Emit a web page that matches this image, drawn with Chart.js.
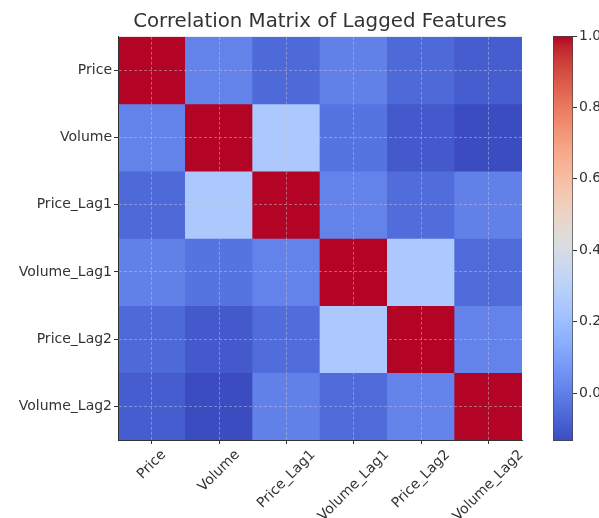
<!DOCTYPE html>
<html>
<head>
<meta charset="utf-8">
<script src="https://cdn.jsdelivr.net/npm/chart.js@4/dist/chart.umd.min.js"></script>
<style>
  html, body { margin: 0; padding: 0; background: #fff; overflow: hidden; }
  #wrap { position: relative; width: 599px; height: 518px; }
  #main { position: absolute; left: 0; top: 0; }
  #cbar { position: absolute; left: 540px; top: 0; }
</style>
</head>
<body>
<div id="wrap">
  <canvas id="main" width="599" height="518"></canvas>
  <canvas id="cbar" width="80" height="518"></canvas>
</div>
<script>
// ---- data ----
const features = ['Price', 'Volume', 'Price_Lag1', 'Volume_Lag1', 'Price_Lag2', 'Volume_Lag2'];
const rowPrice      = [ 1.00,  0.01, -0.06,  0.005, -0.06, -0.09 ];
const rowVolume     = [ 0.01,  1.00,  0.25, -0.03, -0.10, -0.134 ];
const rowPriceLag1  = [-0.06,  0.25,  1.00,  0.01, -0.05,  0.005 ];
const rowVolumeLag1 = [ 0.005,-0.03,  0.01,  1.00,  0.25, -0.055 ];
const rowPriceLag2  = [-0.06, -0.10, -0.05,  0.25,  1.00,  0.01 ];
const rowVolumeLag2 = [-0.09, -0.134, 0.005,-0.055, 0.01,  1.00 ];
const matrix = [rowPrice, rowVolume, rowPriceLag1, rowVolumeLag1, rowPriceLag2, rowVolumeLag2];
const colorbarTicks = [0.0, 0.2, 0.4, 0.6, 0.8, 1.0];
const chartTitle = 'Correlation Matrix of Lagged Features';

// ---- colormap (coolwarm) ----
const cw = [
 [59,76,192],[68,90,204],[77,104,215],[87,117,225],[98,130,234],[108,142,241],[119,154,247],[130,165,251],
 [141,176,254],[152,185,255],[163,194,255],[174,201,253],[184,208,249],[194,213,244],[204,217,238],[213,219,230],
 [221,221,221],[229,216,209],[236,211,197],[241,204,185],[245,196,173],[247,187,160],[247,177,148],[247,166,135],
 [244,154,123],[241,141,111],[236,127,99],[229,112,88],[222,96,77],[213,80,66],[203,62,56],[192,40,47],[180,4,38]
];
function coolwarm(t) {
  t = Math.max(0, Math.min(1, t));
  const p = t * (cw.length - 1);
  const i = Math.min(cw.length - 2, Math.floor(p));
  const f = p - i;
  const c = cw[i].map((v, k) => Math.round(v + (cw[i + 1][k] - v) * f));
  return `rgb(${c[0]},${c[1]},${c[2]})`;
}
const vmin = Math.min(...matrix.flat());
const vmax = Math.max(...matrix.flat());
const norm = v => (v - vmin) / (vmax - vmin);

const FONT = 'DejaVu Sans';
const TEXT = '#333333';
const GRID = 'rgba(200,200,215,0.6)';

// rotated, centred x tick labels (matplotlib style)
const xLabelPlugin = {
  id: 'xLabels',
  afterDraw(chart) {
    const xs = chart.scales.x;
    const ctx = chart.ctx;
    const ca = chart.chartArea;
    ctx.save();
    ctx.font = `14px "${FONT}"`;
    ctx.fillStyle = TEXT;
    ctx.textAlign = 'center';
    ctx.textBaseline = 'middle';
    features.forEach((lab, i) => {
      const x = xs.getPixelForValue(i);
      const w = ctx.measureText(lab).width;
      const side = (w + 16) * Math.SQRT1_2;
      const cy = ca.bottom + 7 + side / 2;
      ctx.save();
      ctx.translate(x, cy);
      ctx.rotate(-Math.PI / 4);
      ctx.fillText(lab, 0, 0);
      ctx.restore();
    });
    ctx.restore();
  }
};

const gridOpts = {
  z: 1,
  color: GRID,
  lineWidth: 0.8,
  drawTicks: true,
  tickLength: 4,
  tickColor: '#333',
  tickWidth: 1,
  tickBorderDash: []
};
const borderOpts = { display: true, color: '#333', width: 1, dash: [3, 2], z: 1 };

new Chart(document.getElementById('main'), {
  type: 'bar',
  data: {
    labels: features,
    datasets: matrix.map((row, r) => ({
      label: features[r],
      data: row.map(() => 1),
      backgroundColor: row.map(v => coolwarm(norm(v))),
      borderWidth: 0,
      barPercentage: 1,
      categoryPercentage: 1,
      stack: 'm'
    }))
  },
  options: {
    responsive: false,
    animation: false,
    devicePixelRatio: 1,
    layout: { padding: { left: 0, right: 77, top: 0, bottom: 0 } },
    plugins: {
      legend: { display: false },
      tooltip: { enabled: false },
      title: {
        display: true,
        fullSize: false,
        text: chartTitle,
        color: TEXT,
        font: { family: FONT, size: 19.8, weight: 'normal' },
        padding: { top: 10, bottom: 3 }
      }
    },
    scales: {
      x: {
        type: 'category',
        stacked: true,
        offset: true,
        grid: Object.assign({ offset: false }, gridOpts),
        border: borderOpts,
        ticks: { display: false },
        afterFit(s) { s.height = 78; }
      },
      y: {
        type: 'linear',
        stacked: true,
        reverse: true,
        min: 0,
        max: features.length,
        grid: gridOpts,
        border: borderOpts,
        afterBuildTicks(s) { s.ticks = features.map((_, i) => ({ value: i + 0.5 })); },
        ticks: {
          color: TEXT,
          padding: 2,
          font: { family: FONT, size: 14 },
          callback: (v, i) => features[i]
        },
        afterFit(s) { s.width = 118; }
      }
    }
  },
  plugins: [xLabelPlugin]
});

// ---- colorbar ----
new Chart(document.getElementById('cbar'), {
  type: 'bar',
  data: {
    labels: [''],
    datasets: [{
      data: [[vmin, vmax]],
      backgroundColor(c) {
        const ca = c.chart.chartArea;
        if (!ca) return null;
        const g = c.chart.ctx.createLinearGradient(0, ca.bottom, 0, ca.top);
        cw.forEach((col, k) => g.addColorStop(k / (cw.length - 1), `rgb(${col[0]},${col[1]},${col[2]})`));
        return g;
      },
      borderColor: '#444',
      borderWidth: 1,
      borderSkipped: false,
      barPercentage: 1,
      categoryPercentage: 1
    }]
  },
  options: {
    responsive: false,
    animation: false,
    devicePixelRatio: 1,
    layout: { padding: { left: 13, right: 0, top: 36, bottom: 77 } },
    plugins: { legend: { display: false }, tooltip: { enabled: false } },
    scales: {
      x: { display: false, offset: true },
      y: {
        position: 'right',
        min: vmin,
        max: vmax,
        grid: { drawOnChartArea: false, drawTicks: true, tickLength: 4, tickColor: '#333', tickWidth: 1 },
        border: { display: false },
        afterBuildTicks(s) { s.ticks = colorbarTicks.map(v => ({ value: v })); },
        ticks: {
          color: TEXT,
          padding: 2,
          font: { family: FONT, size: 14 },
          callback: v => Number(v).toFixed(1)
        },
        afterFit(s) { s.width = 47; }
      }
    }
  }
});
</script>
</body>
</html>
